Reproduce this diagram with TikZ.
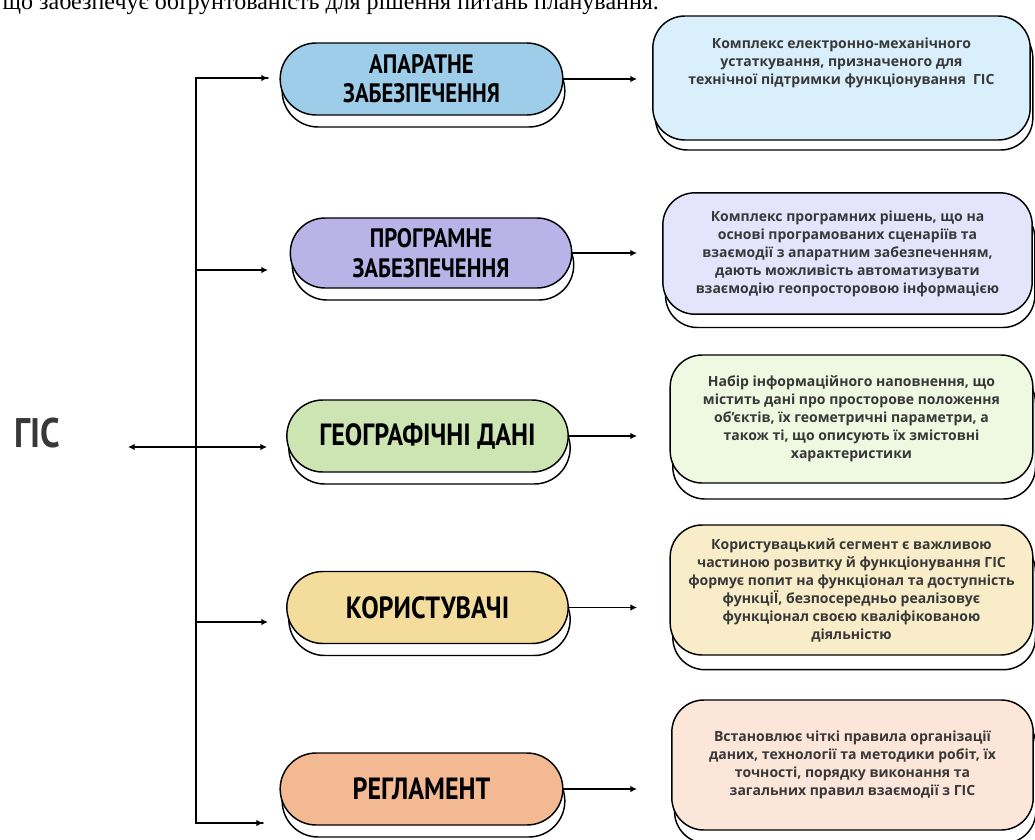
\documentclass[tikz,border=0pt]{standalone}
\usepackage{fontspec}
\setmainfont{Liberation Serif}
\newfontfamily\descfont{Open Sans}
\newfontfamily\labelfont{PT Sans}[FakeStretch=0.85]
\usetikzlibrary{arrows.meta,shadows}
\definecolor{pillblue}{HTML}{9ECDEA}
\definecolor{pillviolet}{HTML}{BAB3E8}
\definecolor{pillgreen}{HTML}{CCE5B3}
\definecolor{pillyellow}{HTML}{F3DC9C}
\definecolor{pillorange}{HTML}{F3B992}
\definecolor{boxblue}{HTML}{D9EFFC}
\definecolor{boxviolet}{HTML}{E4E4FC}
\definecolor{boxgreen}{HTML}{EFF8E0}
\definecolor{boxyellow}{HTML}{F8ECC9}
\definecolor{boxorange}{HTML}{FBE6D9}
\definecolor{desctext}{HTML}{383838}
\tikzset{
    every picture/.style={line cap=round,line join=round},
    pill/.style={draw=black,line width=1.1pt,rounded corners=27pt,
      minimum width=211pt,minimum height=54pt,inner sep=2pt,align=center,
      font=\labelfont\bfseries\fontsize{20}{22}\selectfont,
      general shadow={shadow xshift=1.5pt,shadow yshift=-9pt,
        fill=white,draw=black,line width=1.1pt}},
    bigpill/.style={pill,font=\labelfont\bfseries\fontsize{23}{25}\selectfont},
    descbox/.style={draw=black,line width=1.1pt,rounded corners=24pt,
      minimum width=272pt,minimum height=96pt,inner sep=3pt,align=center,
      text=desctext,font=\descfont\bfseries\fontsize{10.5}{13.5}\selectfont,
      general shadow={shadow xshift=2pt,shadow yshift=-#1,
        fill=white,draw=black,line width=1.1pt}},
    descbox/.default=10pt,
    flowarrow/.style={-{Latex[length=5pt,width=5pt]},line width=1.1pt}
}
\begin{document}
\begin{tikzpicture}[x=0.75pt,y=-0.75pt]
  \useasboundingbox (0,0) rectangle (1035,839);
  \clip (0,0) rectangle (1035,839);
  \node[anchor=base west,font=\fontsize{18}{20}\selectfont] (topline) at (-2,9)
    {що забезпечує обґрунтованість для рішення питань планування.};
  % categories
  \node[pill,fill=pillblue,minimum width=212pt] (hw) at (421.5,79)
    {АПАРАТНЕ\\ЗАБЕЗПЕЧЕННЯ};
  \node[pill,fill=pillviolet,minimum height=52.5pt,rounded corners=26pt] (sw) at (431,253)
    {ПРОГРАМНЕ\\ЗАБЕЗПЕЧЕННЯ};
  \node[bigpill,fill=pillgreen] (geo) at (427.5,436) {ГЕОГРАФІЧНІ ДАНІ};
  \node[bigpill,fill=pillyellow] (users) at (427.5,607.5) {КОРИСТУВАЧІ};
  \node[bigpill,fill=pillorange,minimum width=212pt] (rules) at (421.5,789) {РЕГЛАМЕНТ};
  % descriptions
  \node[descbox=7.5pt,fill=boxblue,minimum width=283pt,minimum height=93pt,
        text depth=25pt] (hwtext) at (841.5,78) {
    Комплекс електронно-механічного\\
    устаткування, призначеного для\\
    технічної підтримки функціонування\ \ ГІС};
  \node[descbox,fill=boxviolet,minimum width=277pt,minimum height=91pt] (swtext) at (847.5,253.5) {
    Комплекс програмних рішень, що на\\
    основі програмованих сценаріїв та\\
    взаємодії з апаратним забезпеченням,\\
    дають можливість автоматизувати\\
    взаємодію геопросторовою інформацією};
  \node[descbox=12pt,fill=boxgreen] (geotext) at (851.5,419) {
    Набір інформаційного наповнення, що\\
    містить дані про просторове положення\\
    об’єктів, їх геометричні параметри, а\\
    також ті, що описують їх змістовні\\
    характеристики};
  \node[descbox=11pt,fill=boxyellow,minimum height=97.5pt] (userstext) at (851.5,590) {
    Користувацький сегмент є важливою\\
    частиною розвитку й функціонування ГІС\\
    формує попит на функціонал та доступність\\
    функціЇ, безпосередньо реалізовує\\
    функціонал своєю кваліфікованою\\
    діяльністю};
  \node[descbox,fill=boxorange,minimum width=271pt,minimum height=97.5pt] (rulestext) at (852.5,765) {
    Встановлює чіткі правила організації\\
    даних, технології та методики робіт, їх\\
    точності, порядку виконання та\\
    загальних правил взаємодії з ГІС};
  % root
  \node[font=\labelfont\bfseries\fontsize{31}{33}\selectfont,text=desctext] (gis) at (37,433) {ГІС};
  \coordinate (gisleft) at (128,447);
  \coordinate (gisright) at (267,447);
  \draw[{Latex[length=5pt,width=5pt]}-{Latex[length=5pt,width=5pt]},line width=1.1pt]
    (gisleft) -- (gisright);
  % trunk and branches
  \coordinate (t1) at (196,78);
  \coordinate (t5) at (196,823);
  \coordinate (in1) at (268,78);
  \coordinate (in2) at (268,270);
  \coordinate (in4) at (268,622);
  \coordinate (in5) at (263,823);
  \draw[line width=1.1pt,line join=miter] (in1) -- (t1) -- (t5) -- (in5);
  \draw[flowarrow] (t1) -- (in1);
  \draw[flowarrow] (in2 -| t1) -- (in2);
  \draw[flowarrow] (in4 -| t1) -- (in4);
  \draw[flowarrow] (t5) -- (in5);
  % outgoing arrows
  \coordinate (outend) at (637,0);
  \draw[flowarrow] (hw.east) -- (hw.east -| outend);
  \draw[flowarrow] (sw.east) -- (sw.east -| outend);
  \draw[flowarrow] (geo.east) -- (geo.east -| outend);
  \draw[flowarrow] (users.east) -- (users.east -| outend);
  \draw[flowarrow] (rules.east) -- (rules.east -| outend);
\end{tikzpicture}
\end{document}
